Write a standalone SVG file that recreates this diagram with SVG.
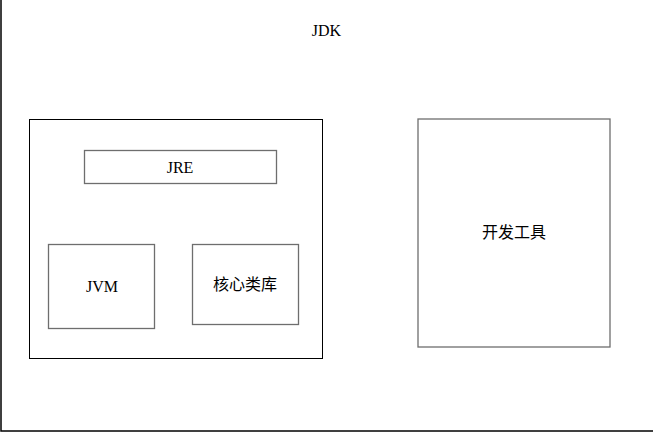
<svg xmlns="http://www.w3.org/2000/svg" width="653" height="433" viewBox="0 0 653 433">
<style>
.frame{fill:none;stroke:#000;stroke-width:1.5}
.box{fill:#fff;stroke:#000;stroke-width:1}
.inner{fill:#fff;stroke:#6e6e6e;stroke-width:1.3}
.lat{font-family:"Liberation Serif","DejaVu Serif",serif;font-size:16px;fill:#000;text-anchor:middle}
.cjk{font-family:"Noto Sans CJK SC","Noto Sans",sans-serif;font-size:16px;fill:#000;text-anchor:middle}
</style>
<rect x="0" y="0" width="653" height="433" fill="#fff"/>
<g id="jdk">
<rect class="frame" x="1" y="-10" width="700" height="441"/>
<text class="lat" x="326.5" y="36" font-size="17">JDK</text>
</g>
<g id="jre">
<rect class="box" x="29.5" y="119.5" width="293" height="239"/>
</g>
<g id="jre-label">
<rect class="inner" x="84.5" y="150.5" width="192" height="33"/>
<text class="lat" x="180" y="173">JRE</text>
</g>
<g id="jvm">
<rect class="inner" x="48.5" y="244.5" width="106" height="84"/>
<text class="lat" x="102" y="292">JVM</text>
</g>
<g id="core-lib">
<rect class="inner" x="192.5" y="244.5" width="106" height="80"/>
<text class="cjk" x="245" y="290">核心类库</text>
</g>
<g id="dev-tools">
<rect class="inner" x="418" y="119" width="192" height="228"/>
<text class="cjk" x="514" y="238">开发工具</text>
</g>
<g id="connectors"></g>
</svg>
